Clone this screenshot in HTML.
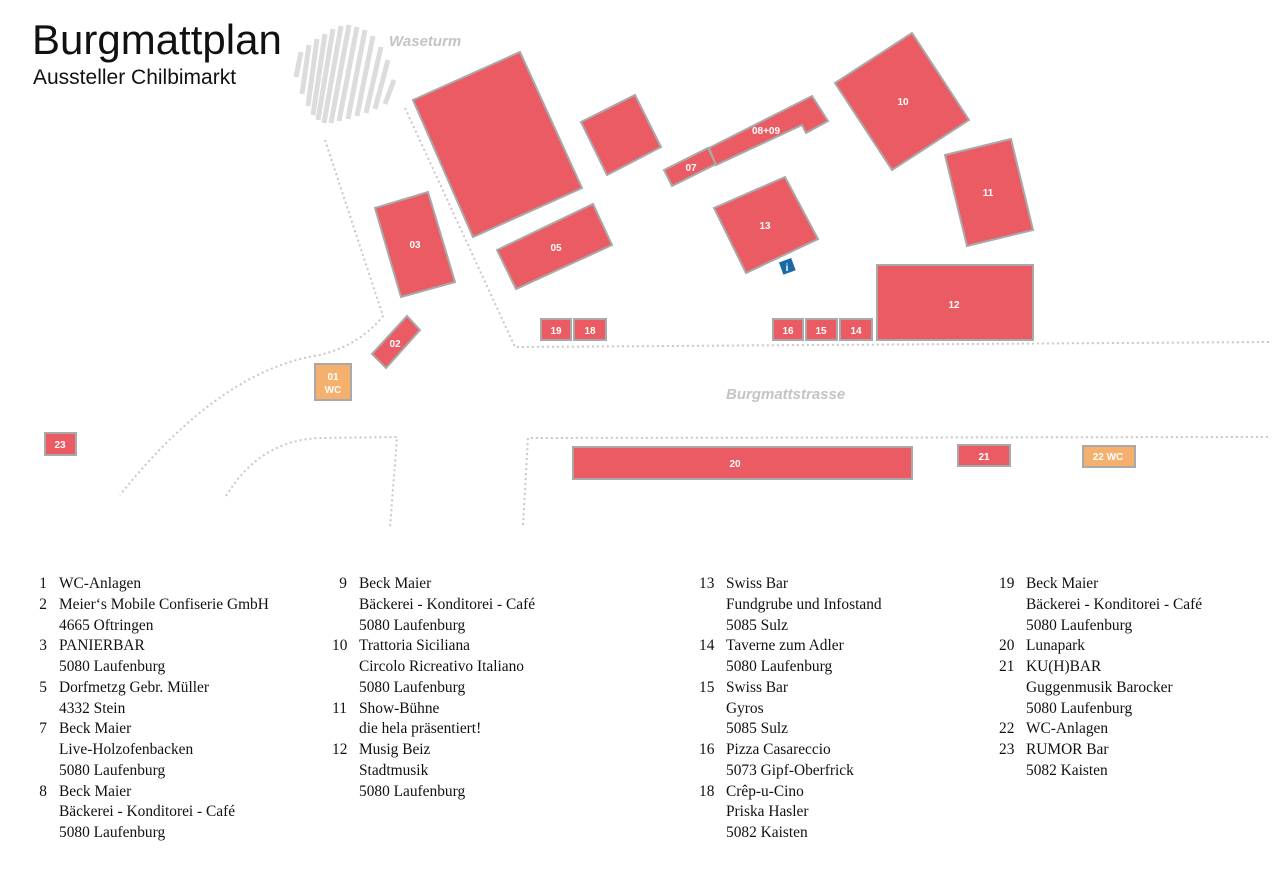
<!DOCTYPE html>
<html><head><meta charset="utf-8"><style>
body{margin:0;width:1280px;height:887px;background:#fff;overflow:hidden;position:relative;font-family:"Liberation Sans",sans-serif}
svg{position:absolute;left:0;top:0}
.leg{position:absolute;font-family:"Liberation Serif",serif;font-size:15.4px;line-height:20.75px;color:#111}
.leg div{position:relative;padding-left:27px;white-space:nowrap}
.leg span{position:absolute;left:0;width:15px;text-align:right}
</style></head><body>
<svg width="1280" height="887" viewBox="0 0 1280 887">
<g stroke="#dcdcdc" stroke-width="5" stroke-linecap="butt">
<line x1="301" y1="52" x2="296" y2="77"/>
<line x1="309" y1="45" x2="302" y2="94"/>
<line x1="317" y1="39" x2="308" y2="106"/>
<line x1="325" y1="34" x2="313" y2="115"/>
<line x1="333" y1="29" x2="318" y2="120"/>
<line x1="341" y1="26" x2="324" y2="123"/>
<line x1="349" y1="25" x2="331" y2="123"/>
<line x1="357" y1="27" x2="339" y2="121"/>
<line x1="365" y1="30" x2="348" y2="119"/>
<line x1="373" y1="36" x2="357" y2="116"/>
<line x1="381" y1="47" x2="366" y2="113"/>
<line x1="388" y1="60" x2="375" y2="109"/>
<line x1="394" y1="80" x2="385" y2="104"/>
</g>
<g fill="none" stroke="#c8c8c8" stroke-width="2" stroke-dasharray="2,3">
<path d="M325 140 L383 316 Q360 345 320 355 Q220 370 120 495"/>
<path d="M405 108 L515 347 L1270 342"/>
<path d="M523 525 L528 438 L1270 437"/>
<path d="M226 496 Q260 440 320 438 L397 437 L390 528"/>
</g>
<g fill="#ea5b63" stroke="#a9a9a9" stroke-width="2">
<polygon points="413,100 520,52 582,188 473,237"/>
<polygon points="375,208 428,192 455,282 401,297"/>
<polygon points="497,250 593,204 612,245 516,289"/>
<polygon points="581,122 635,95 661,147 607,175"/>
<polygon points="664,170 708,148 716,164 672,186"/>
<polygon points="709,148 812,96 828,121 806,133 802,125 716,165"/>
<polygon points="835,83 912,33 969,120 892,170"/>
<polygon points="945,155 1011,139 1033,230 967,246"/>
<polygon points="714,208 785,177 818,239 746,273"/>
<rect x="877" y="265" width="156" height="75"/>
<rect x="541" y="319" width="30" height="21"/>
<rect x="574" y="319" width="32" height="21"/>
<rect x="773" y="319" width="30" height="21"/>
<rect x="806" y="319" width="31" height="21"/>
<rect x="840" y="319" width="32" height="21"/>
<polygon points="372,354 407,316 420,330 386,368"/>
<rect x="45" y="433" width="31" height="22"/>
<rect x="573" y="447" width="339" height="32"/>
<rect x="958" y="445" width="52" height="21"/>
</g>
<g fill="#f4b06c" stroke="#a9a9a9" stroke-width="2">
<rect x="315" y="364" width="36" height="36"/>
<rect x="1083" y="446" width="52" height="21"/>
</g>
<rect x="781" y="260" width="13" height="13" fill="#1a6aa8" transform="rotate(-20 787 267)"/>
<text x="787" y="271" fill="#fff" font-size="10" font-weight="bold" text-anchor="middle">i</text>
<g fill="#fff" font-size="10" font-weight="bold" text-anchor="middle" font-family="Liberation Sans,sans-serif">
<text x="415" y="248">03</text>
<text x="556" y="251">05</text>
<text x="691" y="171">07</text>
<text x="766" y="134">08+09</text>
<text x="903" y="105">10</text>
<text x="988" y="196">11</text>
<text x="765" y="229">13</text>
<text x="954" y="308">12</text>
<text x="556" y="334">19</text>
<text x="590" y="334">18</text>
<text x="788" y="334">16</text>
<text x="821" y="334">15</text>
<text x="856" y="334">14</text>
<text x="395" y="347">02</text>
<text x="333" y="380">01</text>
<text x="333" y="393">WC</text>
<text x="60" y="448">23</text>
<text x="735" y="467">20</text>
<text x="984" y="460">21</text>
<text x="1108" y="460">22 WC</text>
</g>
<g fill="#c4c4c4" font-size="15" font-style="italic" font-weight="bold">
<text x="389" y="46">Waseturm</text>
<text x="726" y="399">Burgmattstrasse</text>
</g>
<text x="32" y="54" font-size="42" fill="#111">Burgmattplan</text>
<text x="33" y="84" font-size="21" fill="#111">Aussteller Chilbimarkt</text>
</svg>
<div class="leg" style="left:32px;top:574px">
<div><span>1</span>WC-Anlagen</div>
<div><span>2</span>Meier‘s Mobile Confiserie GmbH</div>
<div>4665 Oftringen</div>
<div><span>3</span>PANIERBAR</div>
<div>5080 Laufenburg</div>
<div><span>5</span>Dorfmetzg Gebr. Müller</div>
<div>4332 Stein</div>
<div><span>7</span>Beck Maier</div>
<div>Live-Holzofenbacken</div>
<div>5080 Laufenburg</div>
<div><span>8</span>Beck Maier</div>
<div>Bäckerei - Konditorei - Café</div>
<div>5080 Laufenburg</div>
</div>
<div class="leg" style="left:332px;top:574px">
<div><span>9</span>Beck Maier</div>
<div>Bäckerei - Konditorei - Café</div>
<div>5080 Laufenburg</div>
<div><span>10</span>Trattoria Siciliana</div>
<div>Circolo Ricreativo Italiano</div>
<div>5080 Laufenburg</div>
<div><span>11</span>Show-Bühne</div>
<div>die hela präsentiert!</div>
<div><span>12</span>Musig Beiz</div>
<div>Stadtmusik</div>
<div>5080 Laufenburg</div>
</div>
<div class="leg" style="left:699px;top:574px">
<div><span>13</span>Swiss Bar</div>
<div>Fundgrube und Infostand</div>
<div>5085 Sulz</div>
<div><span>14</span>Taverne zum Adler</div>
<div>5080 Laufenburg</div>
<div><span>15</span>Swiss Bar</div>
<div>Gyros</div>
<div>5085 Sulz</div>
<div><span>16</span>Pizza Casareccio</div>
<div>5073 Gipf-Oberfrick</div>
<div><span>18</span>Crêp-u-Cino</div>
<div>Priska Hasler</div>
<div>5082 Kaisten</div>
</div>
<div class="leg" style="left:999px;top:574px">
<div><span>19</span>Beck Maier</div>
<div>Bäckerei - Konditorei - Café</div>
<div>5080 Laufenburg</div>
<div><span>20</span>Lunapark</div>
<div><span>21</span>KU(H)BAR</div>
<div>Guggenmusik Barocker</div>
<div>5080 Laufenburg</div>
<div><span>22</span>WC-Anlagen</div>
<div><span>23</span>RUMOR Bar</div>
<div>5082 Kaisten</div>
</div>
</body></html>
